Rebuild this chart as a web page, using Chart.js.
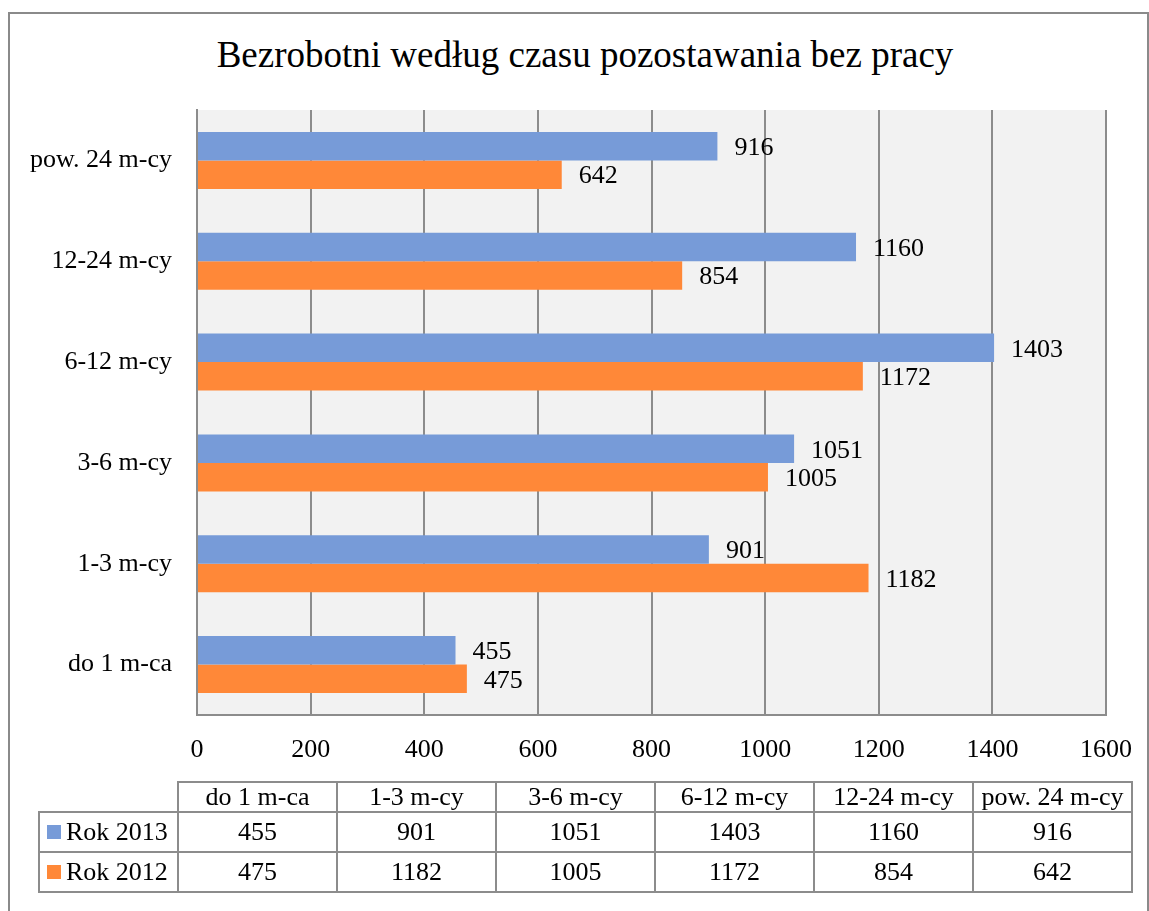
<!DOCTYPE html>
<html lang="pl">
<head>
<meta charset="utf-8">
<title>Bezrobotni według czasu pozostawania bez pracy</title>
<script src="https://cdn.jsdelivr.net/npm/chart.js@4.4.1/dist/chart.umd.min.js"></script>
<style>
    html, body { margin: 0; padding: 0; background: #fff; }
    #wrap { position: relative; width: 1149px; height: 911px; overflow: hidden; }
    #frame {
        position: absolute; left: 8px; top: 12px; width: 1137px; height: 950px;
        border: 2px solid #8a8a8a; border-bottom: none;
    }
    #title {
        position: absolute; left: 0; top: 33px; width: 1170px; height: 44px;
        line-height: 44px; text-align: center; white-space: nowrap;
        font-family: "Liberation Serif", "Times New Roman", serif; font-size: 37px; color: #000;
    }
    #chart-box { position: absolute; left: 0; top: 0; width: 1149px; height: 911px; }
    .cell {
        position: absolute; box-sizing: border-box; border: 2px solid #8c8c8c;
        font-family: "Liberation Serif", "Times New Roman", serif; font-size: 26px;
        color: #000; text-align: center; white-space: nowrap;
        display: flex; align-items: center; justify-content: center;
    }
    .cell.legend { justify-content: flex-start; padding-left: 7px; }
    .swatch { display: inline-block; width: 14px; height: 14px; margin-right: 5px; }
</style>
</head>
<body>
<div id="wrap">
    <div id="frame"></div>
    <div id="title">Bezrobotni według czasu pozostawania bez pracy</div>
    <div id="chart-box"><canvas id="bar-chart"></canvas></div>
    <div id="table"></div>
</div>
<script>
    "use strict";

    // Data
    var categories = ["do 1 m-ca", "1-3 m-cy", "3-6 m-cy", "6-12 m-cy", "12-24 m-cy", "pow. 24 m-cy"];
    var rok2013 = [455, 901, 1051, 1403, 1160, 916];
    var rok2012 = [475, 1182, 1005, 1172, 854, 642];
    var xTicks = [0, 200, 400, 600, 800, 1000, 1200, 1400, 1600];

    var series = [
        { label: "Rok 2013", data: rok2013, color: "#779bd8" },
        { label: "Rok 2012", data: rok2012, color: "#ff8838" }
    ];

    var FONT = "'Liberation Serif', 'Times New Roman', serif";
    var GRID = "#8c8c8c";

    // Plot background
    var plotBg = {
        id: "plotBg",
        beforeDraw: function (chart) {
            var a = chart.chartArea, ctx = chart.ctx;
            ctx.save();
            ctx.fillStyle = "#f2f2f2";
            ctx.fillRect(a.left, a.top, a.right - a.left, a.bottom - a.top);
            ctx.restore();
        }
    };

    // Value labels at bar ends
    var valueLabels = {
        id: "valueLabels",
        afterDatasetsDraw: function (chart) {
            var ctx = chart.ctx;
            ctx.save();
            ctx.font = "26px " + FONT;
            ctx.fillStyle = "#000";
            ctx.textAlign = "left";
            ctx.textBaseline = "middle";
            chart.data.datasets.forEach(function (ds, i) {
                chart.getDatasetMeta(i).data.forEach(function (bar, j) {
                    ctx.fillText(String(ds.data[j]), bar.x + 17, bar.y + 2);
                });
            });
            ctx.restore();
        }
    };

    new Chart(document.getElementById("bar-chart"), {
        type: "bar",
        data: {
            labels: categories.slice().reverse(),
            datasets: series.map(function (s) {
                return {
                    label: s.label,
                    data: s.data.slice().reverse(),
                    backgroundColor: s.color,
                    borderWidth: 0,
                    categoryPercentage: 0.565,
                    barPercentage: 1
                };
            })
        },
        options: {
            indexAxis: "y",
            responsive: true,
            maintainAspectRatio: false,
            animation: false,
            layout: { padding: { left: 0, right: 43, top: 110, bottom: 0 } },
            plugins: {
                legend: { display: false },
                tooltip: { enabled: false },
                title: { display: false }
            },
            scales: {
                x: {
                    min: xTicks[0],
                    max: xTicks[xTicks.length - 1],
                    ticks: {
                        stepSize: xTicks[1] - xTicks[0],
                        color: "#000",
                        padding: 20,
                        font: { family: FONT, size: 26 },
                        callback: function (v) { return String(v); }
                    },
                    grid: { color: GRID, lineWidth: 2, drawTicks: false },
                    border: { color: GRID, width: 2 },
                    afterFit: function (scale) {
                        scale.height = 196;
                        scale.paddingLeft = 0;
                        scale.paddingRight = 0;
                    }
                },
                y: {
                    ticks: {
                        color: "#000",
                        padding: 25,
                        font: { family: FONT, size: 26 }
                    },
                    grid: { display: false, drawTicks: false },
                    border: { color: GRID, width: 2 },
                    afterFit: function (scale) { scale.width = 197; }
                }
            }
        },
        plugins: [plotBg, valueLabels]
    });

    // Data table under the chart
    var colX = [178, 337, 496, 655, 814, 973, 1132];
    var rowY = [782, 812, 852, 892];
    var table = document.getElementById("table");

    function addCell(x0, y0, x1, y1, html, cls) {
        var d = document.createElement("div");
        d.className = "cell" + (cls ? " " + cls : "");
        d.style.left = (x0 - 1) + "px";
        d.style.top = (y0 - 1) + "px";
        d.style.width = (x1 - x0 + 2) + "px";
        d.style.height = (y1 - y0 + 2) + "px";
        d.innerHTML = html;
        table.appendChild(d);
    }

    categories.forEach(function (c, i) {
        addCell(colX[i], rowY[0], colX[i + 1], rowY[1], c);
    });
    series.forEach(function (s, r) {
        addCell(39, rowY[r + 1], colX[0], rowY[r + 2],
            '<span class="swatch" style="background:' + s.color + '"></span>' + s.label, "legend");
        s.data.forEach(function (v, i) {
            addCell(colX[i], rowY[r + 1], colX[i + 1], rowY[r + 2], String(v));
        });
    });
</script>
</body>
</html>
